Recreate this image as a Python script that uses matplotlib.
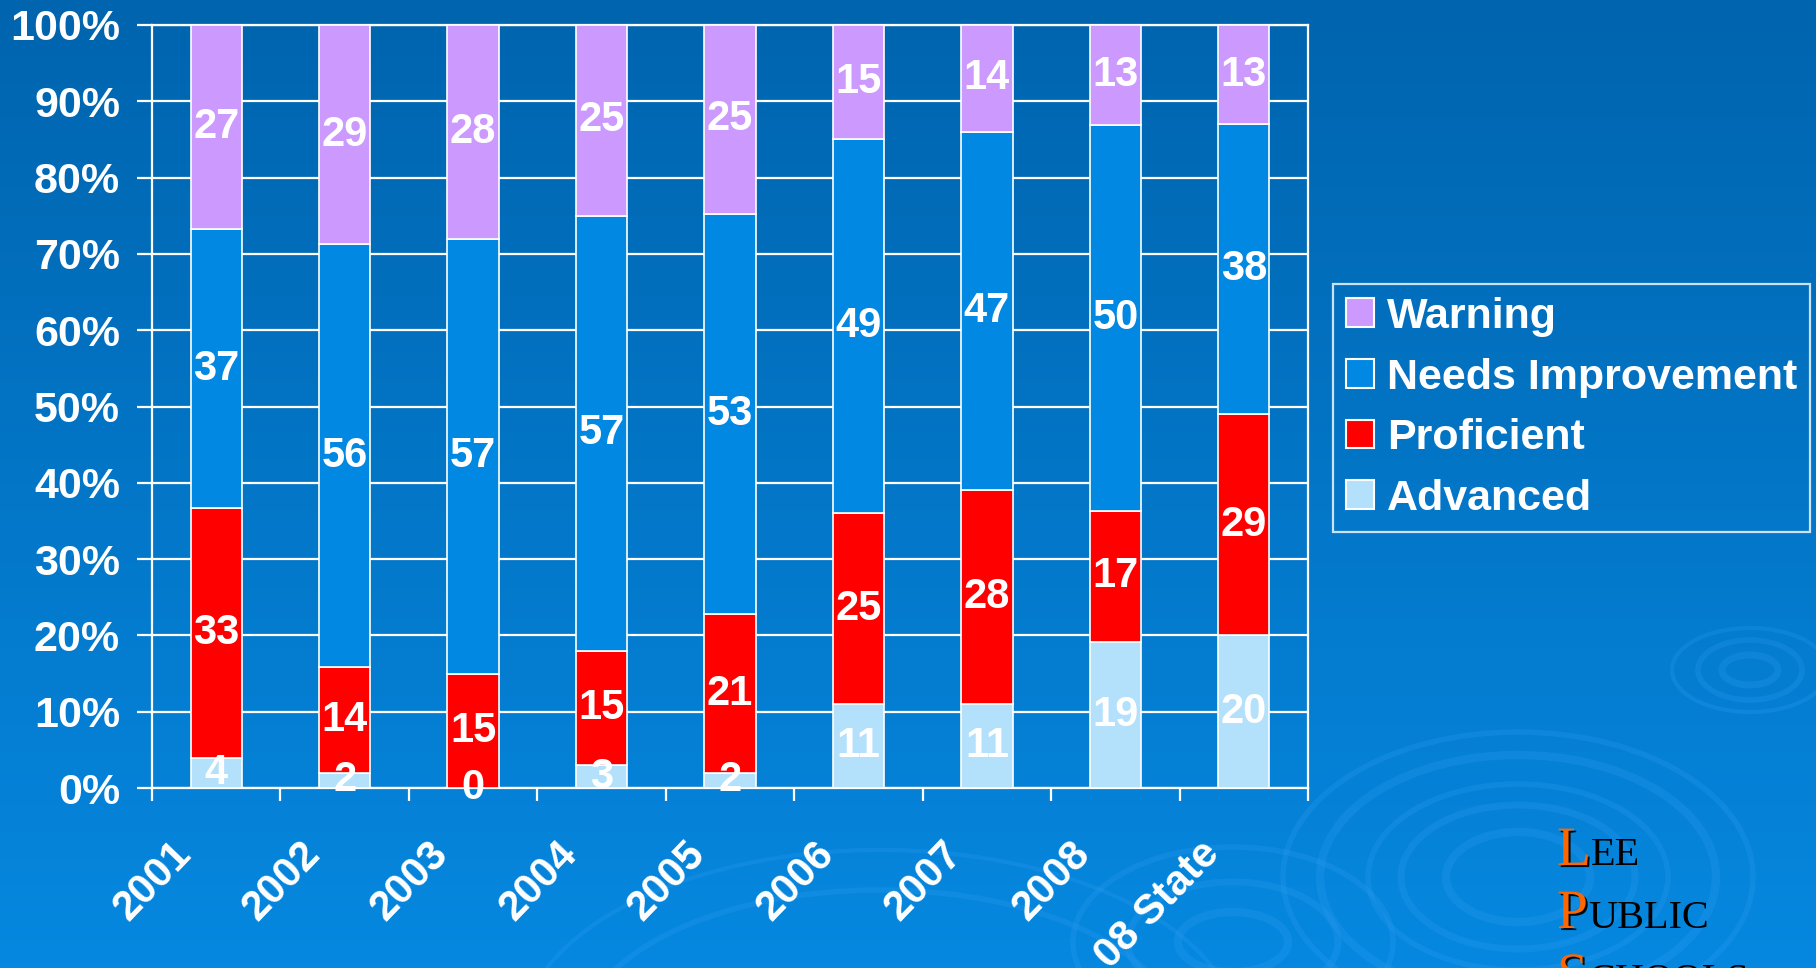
import numpy as np
import matplotlib.pyplot as plt
from matplotlib.patches import Patch, Ellipse
from matplotlib.transforms import ScaledTranslation
import matplotlib.patheffects as pe

plt.rcParams['font.family'] = ['Liberation Sans', 'DejaVu Sans']
plt.rcParams['font.weight'] = 'bold'

## data (percent of students per level)
categories = ['2001', '2002', '2003', '2004', '2005', '2006', '2007', '2008', '08 State']
advanced = [4, 2, 0, 3, 2, 11, 11, 19, 20]
proficient = [33, 14, 15, 15, 21, 25, 28, 17, 29]
needs_improvement = [37, 56, 57, 57, 53, 49, 47, 50, 38]
warning = [27, 29, 28, 25, 25, 15, 14, 13, 13]
y_ticks = [0, 10, 20, 30, 40, 50, 60, 70, 80, 90, 100]

# stacked from the bottom up
series = [('Advanced', advanced, '#B3E0FB'),
          ('Proficient', proficient, '#FF0000'),
          ('Needs Improvement', needs_improvement, '#0088E2'),
          ('Warning', warning, '#CC99FF')]

W, H = 1816, 968
fig = plt.figure(figsize=(W / 100, H / 100), dpi=100)

## slide background: vertical gradient + faint ripples
bg = fig.add_axes([0, 0, 1, 1], zorder=0)
bg.axis('off')
top_c = np.array([0x00, 0x64, 0xAE]) / 255
bot_c = np.array([0x06, 0x88, 0xE0]) / 255
t = np.linspace(0, 1, 256)[:, None, None]
grad = top_c * (1 - t) + bot_c * t
bg.imshow(grad, extent=[0, W, H, 0], aspect='auto')
bg.set_xlim(0, W)
bg.set_ylim(H, 0)
ripples = [(1518, 877, 72, 45, 6), (1518, 877, 117, 72, 5), (1518, 877, 150, 93, 4),
           (1518, 877, 198, 122, 6), (1518, 877, 235, 145, 4),
           (1750, 670, 28, 15, 5), (1750, 670, 52, 30, 4), (1750, 670, 78, 42, 3),
           (1233, 942, 55, 30, 6), (1233, 942, 105, 60, 5), (1233, 942, 160, 95, 4),
           (880, 1040, 300, 150, 4), (880, 1040, 360, 190, 3)]
for cx, cy, rx, ry, lw in ripples:
    bg.add_patch(Ellipse((cx, cy), 2 * rx, 2 * ry, fill=False, ec='#2A9BF0',
                         lw=lw, alpha=0.28))

## chart
ax = fig.add_axes([152 / W, 1 - 788 / H, (1308 - 152) / W, (788 - 25) / H], zorder=1)
ax.patch.set_alpha(0)

x = np.arange(len(categories))
totals = np.sum([s[1] for s in series], axis=0)
bottom = np.zeros(len(categories))
for name, vals, col in series:
    pct = np.array(vals) / totals * 100
    ax.bar(x, pct, width=0.4, bottom=bottom, color=col, edgecolor='white',
           linewidth=1.2, zorder=3, label=name)
    for xi, b, p, v in zip(x, bottom, pct, vals):
        ax.text(xi, b + p / 2, str(v), ha='center', va='center', color='white',
                fontsize=30, fontweight='bold', zorder=4)
    bottom += pct

ax.set_xlim(-0.5, len(categories) - 0.5)
ax.set_ylim(0, 100)
ax.set_yticks(y_ticks)
ax.set_yticklabels([f'{v}%' for v in y_ticks])
ax.yaxis.grid(True, color='white', lw=1.6)
ax.set_axisbelow(True)
for sp in ax.spines.values():
    sp.set_color('white')
    sp.set_linewidth(1.6)

ax.tick_params(axis='y', length=11, width=1.6, color='white', pad=12,
               labelsize=31, labelcolor='white')
ax.set_xticks(x)
ax.set_xticklabels(categories, rotation=46, ha='right', va='center', rotation_mode='anchor')
ax.set_xticks(np.arange(-0.5, len(categories), 1), minor=True)
ax.tick_params(axis='x', which='major', length=0, pad=43, labelsize=30, labelcolor='white')
ax.tick_params(axis='x', which='minor', length=9.5, width=1.6, color='white')
for lab in ax.get_xticklabels():
    lab.set_transform(lab.get_transform() + ScaledTranslation(-0.31, 0, fig.dpi_scale_trans))

## legend (top entry = top of stack)
handles = [Patch(facecolor=c, edgecolor='white', linewidth=1.5, label=n) for n, _, c in series[::-1]]
leg = fig.legend(handles=handles, loc='upper left', bbox_to_anchor=(1333 / W, 1 - 284 / H),
                 bbox_transform=fig.transFigure, fontsize=31, frameon=True, fancybox=False,
                 handlelength=0.65, handleheight=0.65, handletextpad=0.3,
                 labelspacing=0.48, borderpad=0.3, borderaxespad=0)
leg.get_frame().set_facecolor('none')
leg.get_frame().set_edgecolor('white')
leg.get_frame().set_linewidth(1.6)
for txt in leg.get_texts():
    txt.set_color('white')

## school logo, bottom right
shadow = [pe.withSimplePatchShadow(offset=(1.5, -1.5), shadow_rgbFace='black', alpha=0.9)]
logo = [('L', 'EE', 865), ('P', 'UBLIC', 928), ('S', 'CHOOLS', 991)]
for big, small, ybase in logo:
    t1 = fig.text(1557 / W, 1 - ybase / H, big, fontsize=40, family='Liberation Serif',
                  fontweight='normal', color='#FF6600', va='baseline', ha='left',
                  path_effects=shadow)
    bg.annotate(small, xy=(1, 1 - ybase / H), xycoords=(t1, 'figure fraction'),
                fontsize=29, family='Liberation Serif', fontweight='normal',
                color='black', va='baseline', ha='left', annotation_clip=False)

fig.savefig('out.png', dpi=100)
